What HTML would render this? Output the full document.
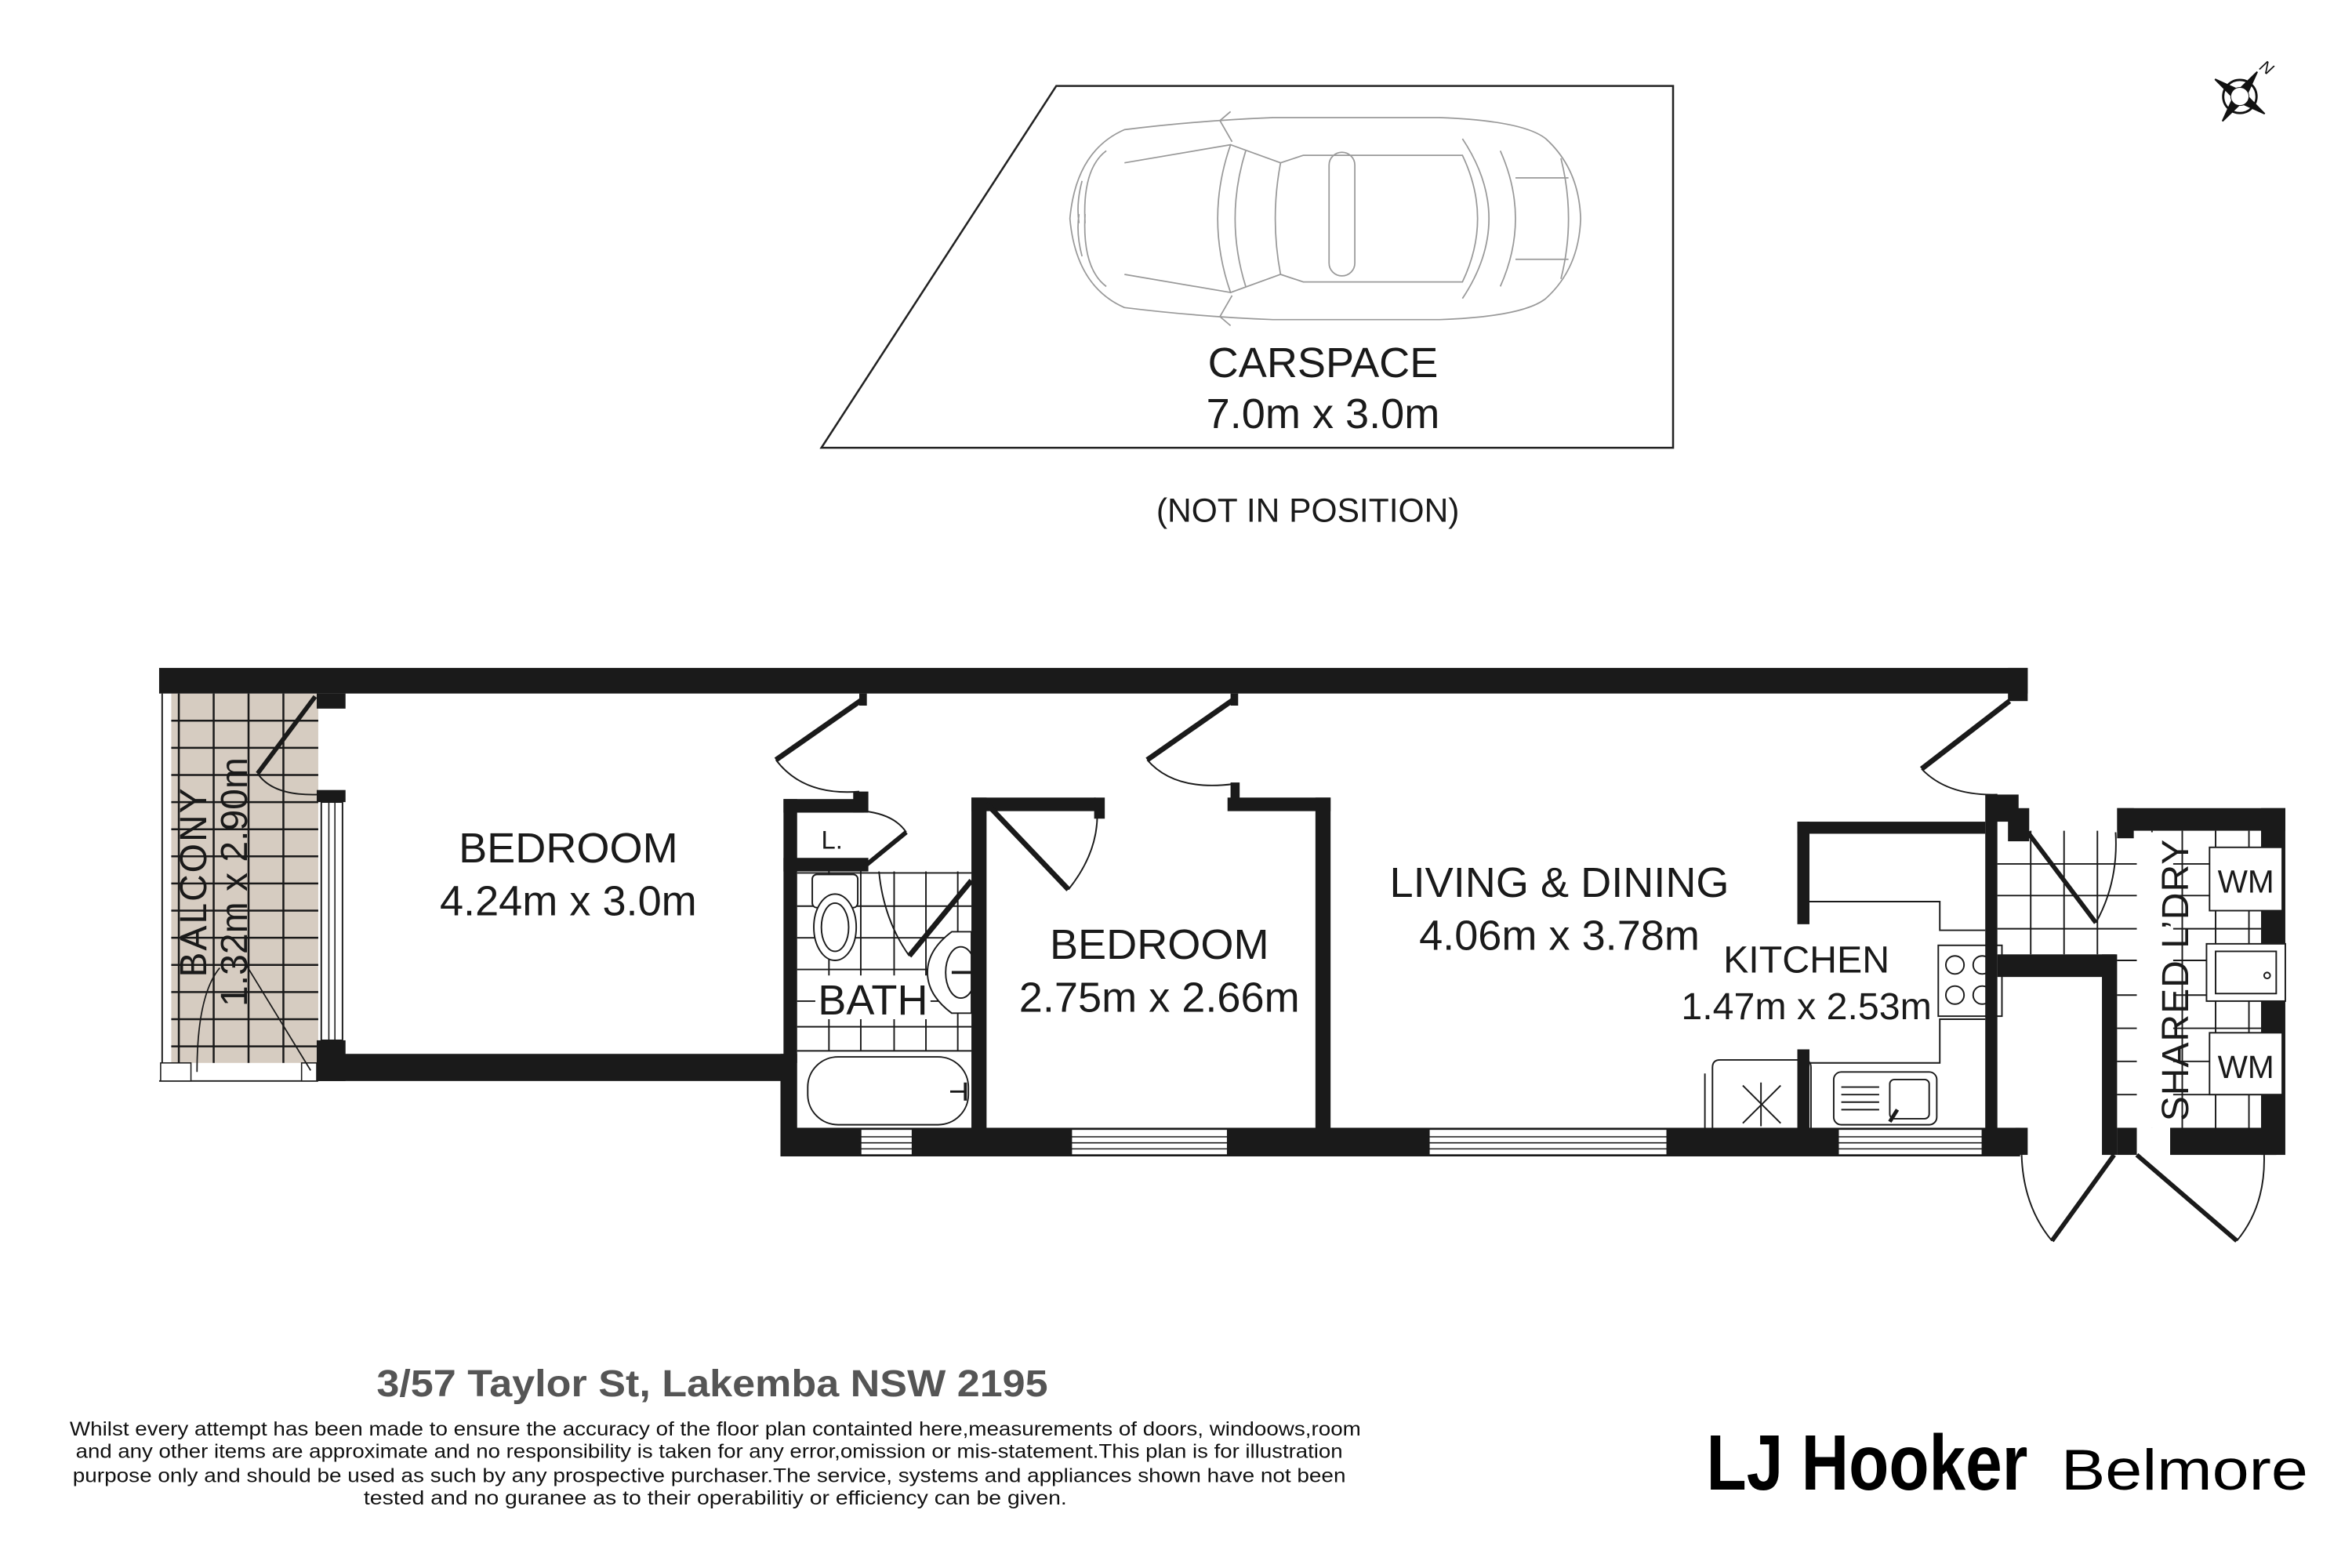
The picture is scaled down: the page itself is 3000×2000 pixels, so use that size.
<!DOCTYPE html>
<html><head><meta charset="utf-8"><style>
html,body{margin:0;padding:0;background:#fff;}
svg{display:block;}
text{font-family:"Liberation Sans",sans-serif;}
</style></head><body>
<svg width="3000" height="2000" viewBox="0 0 1552 1040" preserveAspectRatio="none" xmlns="http://www.w3.org/2000/svg">
<rect width="1552" height="1040" fill="#fff"/>

<!-- CARSPACE -->
<polygon points="697,57 1104,57 1104,297 542,297" fill="none" stroke="#222" stroke-width="1.3"/>
<g fill="none" stroke="#999" stroke-width="0.9">
  <path d="M742,86 Q790,80 840,78 L950,78 Q1005,80 1020,92 Q1042,112 1043,145 Q1042,178 1020,198 Q1005,210 950,212 L840,212 Q790,210 742,204 Q710,190 706,145 Q710,100 742,86 Z"/>
  <path d="M716,148 Q714,112 730,100 M716,142 Q714,178 730,190"/>
  <path d="M714,120 Q710,135 712,148 M714,170 Q710,155 712,142"/>
  <rect x="877" y="101" width="17" height="82" rx="8.5"/>
  <path d="M812,96 Q795,145 812,194 L845,182 Q838,145 845,108 Z"/>
  <path d="M822,100 Q808,145 822,190"/>
  <path d="M845,108 L860,103 L965,103 Q985,145 965,187 L860,187 L845,182"/>
  <path d="M965,92 Q1000,145 965,198"/>
  <path d="M990,100 Q1010,145 990,190 M1000,118 L1035,118 M1000,172 L1035,172"/>
  <path d="M813,94 L805,80 L812,74 M813,196 L805,210 L812,216"/>
  <path d="M742,108 L812,96 M742,182 L812,194"/>
  <path d="M1030,105 Q1040,145 1030,185"/>
</g>
<text x="873" y="250" font-size="28" text-anchor="middle" fill="#1a1a1a">CARSPACE</text>
<text x="873" y="284" font-size="28" text-anchor="middle" fill="#1a1a1a">7.0m x 3.0m</text>
<text x="863" y="346" font-size="22" text-anchor="middle" fill="#1a1a1a">(NOT IN POSITION)</text>

<!-- compass -->
<g transform="translate(1478,64)" stroke="#111" fill="#111">
  <circle r="11" fill="none" stroke-width="1.5"/>
  <polygon points="0,-20 3,-4 0,0 -3,-4" transform="rotate(35)"/>
  <polygon points="0,-20 3,-4 0,0 -3,-4" transform="rotate(125)"/>
  <polygon points="0,-20 3,-4 0,0 -3,-4" transform="rotate(215)"/>
  <polygon points="0,-20 3,-4 0,0 -3,-4" transform="rotate(305)"/>
  <circle r="6" fill="#fff" stroke-width="0.5"/>
  <text x="14" y="-16" font-size="11" font-style="italic" stroke="none" transform="rotate(35 17 -20)">N</text>
</g>

<!-- BALCONY -->
<rect x="113" y="460" width="97" height="245" fill="#d6ccc1"/>
<g stroke="#1a1a1a" stroke-width="1.3">
  <line x1="118" y1="460" x2="118" y2="705"/>
  <line x1="141" y1="460" x2="141" y2="705"/>
  <line x1="164" y1="460" x2="164" y2="705"/>
  <line x1="187" y1="460" x2="187" y2="705"/>
  <line x1="113" y1="478" x2="210" y2="478"/>
  <line x1="113" y1="496" x2="210" y2="496"/>
  <line x1="113" y1="514" x2="210" y2="514"/>
  <line x1="113" y1="532" x2="210" y2="532"/>
  <line x1="113" y1="550" x2="210" y2="550"/>
  <line x1="113" y1="568" x2="210" y2="568"/>
  <line x1="113" y1="586" x2="210" y2="586"/>
  <line x1="113" y1="604" x2="210" y2="604"/>
  <line x1="113" y1="622" x2="210" y2="622"/>
  <line x1="113" y1="640" x2="210" y2="640"/>
  <line x1="113" y1="658" x2="210" y2="658"/>
  <line x1="113" y1="676" x2="210" y2="676"/>
  <line x1="113" y1="694" x2="210" y2="694"/>
</g>
<line x1="107" y1="460" x2="107" y2="717" stroke="#1a1a1a" stroke-width="1"/>
<line x1="105" y1="717" x2="210" y2="717" stroke="#1a1a1a" stroke-width="1"/>
<rect x="106" y="705" width="20" height="12" fill="#fff" stroke="#1a1a1a" stroke-width="0.8"/>
<rect x="199" y="705" width="10" height="12" fill="#fff" stroke="#1a1a1a" stroke-width="0.8"/>
<path d="M208,462 L170,513" stroke="#1a1a1a" stroke-width="3" fill="none"/>
<path d="M170,513 Q180,528 210,527" stroke="#1a1a1a" stroke-width="1" fill="none"/>
<path d="M205,710 L160,636 M130,711 Q130,660 145,642" stroke="#1a1a1a" stroke-width="0.9" fill="none"/>
<text transform="translate(136,585) rotate(-90)" font-size="25" text-anchor="middle" fill="#1a1a1a" letter-spacing="1">BALCONY</text>
<text transform="translate(163,585) rotate(-90)" font-size="25" text-anchor="middle" fill="#1a1a1a">1.32m x 2.90m</text>

<!-- WALLS -->
<g fill="#1a1a1a">
  <rect x="105" y="443" width="1233" height="17"/>
  <rect x="1325" y="443" width="13" height="22"/>
  <rect x="209" y="460" width="19" height="10"/>
  <rect x="209" y="524" width="19" height="8"/>
  <rect x="209" y="690" width="19" height="27"/>
  <rect x="209" y="699" width="310" height="18"/>
  <rect x="515" y="699" width="11" height="68"/>
  <rect x="517" y="530" width="9" height="175"/>
  <rect x="517" y="530" width="53" height="9"/>
  <rect x="563" y="525" width="10" height="14"/>
  <rect x="517" y="569" width="56" height="9"/>
  <rect x="515" y="748" width="818" height="19"/>
  <rect x="641" y="529" width="10" height="225"/>
  <rect x="641" y="529" width="82" height="9"/>
  <rect x="722" y="529" width="7" height="14"/>
  <rect x="810" y="529" width="68" height="9"/>
  <rect x="812" y="519" width="6" height="12"/>
  <rect x="868" y="529" width="10" height="225"/>
  <rect x="567" y="460" width="5" height="8"/>
  <rect x="812" y="460" width="5" height="8"/>
  <rect x="1316" y="527" width="16" height="18"/>
  <rect x="1310" y="527" width="8" height="225"/>
  <rect x="1325" y="536" width="14" height="22"/>
  <rect x="1186" y="545" width="8" height="68"/>
  <rect x="1186" y="545" width="124" height="8"/>
  <rect x="1186" y="696" width="8" height="54"/>
  <rect x="1318" y="633" width="78" height="15"/>
  <rect x="1387" y="633" width="10" height="133"/>
  <rect x="1397" y="536" width="111" height="15"/>
  <rect x="1397" y="536" width="11" height="20"/>
  <rect x="1492" y="536" width="16" height="230"/>
  <rect x="1397" y="748" width="13" height="18"/>
  <rect x="1432" y="748" width="70" height="18"/>
  <rect x="1330" y="748" width="8" height="18"/>
</g>

<rect x="212" y="532" width="14" height="158" fill="#fff" stroke="#1a1a1a" stroke-width="1"/>
<line x1="217" y1="532" x2="217" y2="690" stroke="#1a1a1a" stroke-width="0.8"/>
<line x1="221" y1="532" x2="221" y2="690" stroke="#1a1a1a" stroke-width="0.8"/>

<g fill="#fff" stroke="#1a1a1a" stroke-width="0.8">
  <rect x="568" y="749" width="34" height="17"/>
  <rect x="707" y="749" width="103" height="17"/>
  <rect x="943" y="749" width="157" height="17"/>
  <rect x="1213" y="749" width="95" height="17"/>
</g>
<g stroke="#1a1a1a" stroke-width="0.8">
  <line x1="568" y1="754" x2="602" y2="754"/><line x1="568" y1="758" x2="602" y2="758"/><line x1="568" y1="762" x2="602" y2="762"/>
  <line x1="707" y1="754" x2="810" y2="754"/><line x1="707" y1="758" x2="810" y2="758"/><line x1="707" y1="762" x2="810" y2="762"/>
  <line x1="943" y1="754" x2="1100" y2="754"/><line x1="943" y1="758" x2="1100" y2="758"/><line x1="943" y1="762" x2="1100" y2="762"/>
  <line x1="1213" y1="754" x2="1308" y2="754"/><line x1="1213" y1="758" x2="1308" y2="758"/><line x1="1213" y1="762" x2="1308" y2="762"/>
</g>

<g stroke="#1a1a1a" fill="none">
  <path d="M569,464 L512,504" stroke-width="3.5"/>
  <path d="M512,504 Q530,528 567,525" stroke-width="1"/>
  <path d="M814,464 L757,504" stroke-width="3.5"/>
  <path d="M757,504 Q775,525 814,520" stroke-width="1"/>
  <path d="M1326,465 L1268,510" stroke-width="3.5"/>
  <path d="M1268,510 Q1285,528 1318,527" stroke-width="1"/>
  <path d="M570,575 L598,552" stroke-width="3"/>
  <path d="M598,552 Q590,540 570,538" stroke-width="1"/>
  <path d="M641,584 L600,634" stroke-width="3.5"/>
  <path d="M600,634 Q583,610 580,578" stroke-width="1"/>
  <path d="M651,533 L705,590" stroke-width="3.5"/>
  <path d="M705,590 Q725,565 724,538" stroke-width="1"/>
  <path d="M1338,552 L1383,612" stroke-width="3"/>
  <path d="M1383,612 Q1398,585 1396,552" stroke-width="1"/>
  <path d="M1395,766 L1354,823" stroke-width="3"/>
  <path d="M1354,823 Q1335,800 1334,766" stroke-width="1"/>
  <path d="M1410,766 L1476,823" stroke-width="3"/>
  <path d="M1476,823 Q1495,800 1494,766" stroke-width="1"/>
</g>

<g stroke="#1a1a1a" stroke-width="1">
  <line x1="526" y1="579" x2="641" y2="579"/>
  <line x1="526" y1="601" x2="641" y2="601"/>
  <line x1="526" y1="622" x2="641" y2="622"/>
  <line x1="526" y1="643" x2="641" y2="643"/>
  <line x1="526" y1="664" x2="641" y2="664"/>
  <line x1="526" y1="681" x2="641" y2="681"/>
  <line x1="526" y1="697" x2="641" y2="697"/>
  <line x1="547" y1="578" x2="547" y2="697"/>
  <line x1="568" y1="578" x2="568" y2="697"/>
  <line x1="590" y1="578" x2="590" y2="697"/>
  <line x1="611" y1="578" x2="611" y2="697"/>
  <line x1="632" y1="578" x2="632" y2="697"/>
</g>
<rect x="538" y="647" width="76" height="29" fill="#fff"/>
<rect x="536" y="580" width="30" height="22" rx="3" fill="#fff" stroke="#1a1a1a" stroke-width="1"/>
<ellipse cx="551" cy="615" rx="14" ry="22" fill="#fff" stroke="#1a1a1a" stroke-width="1"/>
<ellipse cx="551" cy="615" rx="9" ry="16" fill="none" stroke="#1a1a1a" stroke-width="1"/>
<path d="M641,618 L628,618 Q612,630 612,645 Q612,660 628,672 L641,672 Z" fill="#fff" stroke="#1a1a1a" stroke-width="1"/>
<ellipse cx="634" cy="645" rx="10" ry="17" fill="none" stroke="#1a1a1a" stroke-width="1"/>
<line x1="628" y1="645" x2="641" y2="645" stroke="#1a1a1a" stroke-width="2"/>
<rect x="533" y="701" width="106" height="45" rx="20" fill="#fff" stroke="#1a1a1a" stroke-width="1"/>
<line x1="627" y1="724" x2="637" y2="724" stroke="#1a1a1a" stroke-width="1.5"/>
<line x1="637" y1="718" x2="637" y2="730" stroke="#1a1a1a" stroke-width="2"/>
<text x="549" y="563" font-size="17" text-anchor="middle" fill="#1a1a1a">L.</text>
<text x="576" y="673" font-size="28" text-anchor="middle" fill="#1a1a1a">BATH</text>

<g fill="none" stroke="#1a1a1a" stroke-width="1">
  <path d="M1194,598 L1280,598 L1280,617 L1310,617"/>
  <path d="M1310,676 L1280,676 L1280,705 L1194,705"/>
  <rect x="1279" y="627" width="42" height="47"/>
  <circle cx="1290" cy="640" r="6"/><circle cx="1308" cy="640" r="6"/>
  <circle cx="1290" cy="660" r="6"/><circle cx="1308" cy="660" r="6"/>
  <rect x="1210" y="711" width="68" height="35" rx="5"/>
  <rect x="1247" y="716" width="26" height="26" rx="3"/>
  <line x1="1215" y1="721" x2="1240" y2="721"/><line x1="1215" y1="726" x2="1240" y2="726"/>
  <line x1="1215" y1="731" x2="1240" y2="731"/><line x1="1215" y1="736" x2="1240" y2="736"/>
  <path d="M1130,748 L1130,708 Q1130,703 1135,703 L1190,703 Q1195,703 1195,708 L1195,748"/>
  <line x1="1125" y1="712" x2="1125" y2="748"/>
  <line x1="1150" y1="720" x2="1175" y2="745"/><line x1="1175" y1="720" x2="1150" y2="745"/>
  <line x1="1162" y1="718" x2="1162" y2="747"/>
</g>
<line x1="1247" y1="744" x2="1252" y2="736" stroke="#1a1a1a" stroke-width="2.5"/>

<g stroke="#1a1a1a" stroke-width="1">
  <line x1="1318" y1="573" x2="1492" y2="573"/>
  <line x1="1318" y1="594" x2="1492" y2="594"/>
  <line x1="1318" y1="616" x2="1492" y2="616"/>
  <line x1="1397" y1="637" x2="1492" y2="637"/>
  <line x1="1397" y1="660" x2="1492" y2="660"/>
  <line x1="1397" y1="682" x2="1492" y2="682"/>
  <line x1="1397" y1="704" x2="1492" y2="704"/>
  <line x1="1397" y1="726" x2="1492" y2="726"/>
  <line x1="1340" y1="551" x2="1340" y2="633"/>
  <line x1="1362" y1="551" x2="1362" y2="633"/>
  <line x1="1384" y1="551" x2="1384" y2="633"/>
  <line x1="1420" y1="551" x2="1420" y2="748"/>
  <line x1="1440" y1="551" x2="1440" y2="748"/>
  <line x1="1462" y1="551" x2="1462" y2="748"/>
  <line x1="1484" y1="551" x2="1484" y2="748"/>
</g>
<rect x="1410" y="552" width="24" height="196" fill="#fff"/>
<g fill="#fff" stroke="#1a1a1a" stroke-width="1">
  <rect x="1458" y="562" width="48" height="42"/>
  <rect x="1458" y="685" width="48" height="41"/>
  <rect x="1456" y="626" width="52" height="38"/>
  <rect x="1462" y="631" width="40" height="28"/>
  <circle cx="1496" cy="647" r="2"/>
</g>
<text x="1482" y="592" font-size="21" text-anchor="middle" fill="#1a1a1a">WM</text>
<text x="1482" y="715" font-size="21" text-anchor="middle" fill="#1a1a1a">WM</text>
<text transform="translate(1444,650) rotate(-90)" font-size="25" text-anchor="middle" fill="#1a1a1a" letter-spacing="0.5">SHARED L’DRY</text>

<g fill="#1a1a1a" text-anchor="middle" font-size="28">
  <text x="375" y="572">BEDROOM</text>
  <text x="375" y="607">4.24m x 3.0m</text>
  <text x="765" y="636">BEDROOM</text>
  <text x="765" y="671">2.75m x 2.66m</text>
  <text x="1029" y="595">LIVING &amp; DINING</text>
  <text x="1029" y="630">4.06m x 3.78m</text>
  <text x="1192" y="645" font-size="25">KITCHEN</text>
  <text x="1192" y="676" font-size="25">1.47m x 2.53m</text>
</g>

<text x="470" y="926" font-size="25" font-weight="bold" text-anchor="middle" fill="#555" textLength="443" lengthAdjust="spacingAndGlyphs">3/57 Taylor St, Lakemba NSW 2195</text>
<g font-size="13" fill="#111" text-anchor="middle">
  <text x="472" y="952" textLength="852" lengthAdjust="spacingAndGlyphs">Whilst every attempt has been made to ensure the accuracy of the floor plan containted here,measurements of doors, windoows,room</text>
  <text x="468" y="967" textLength="836" lengthAdjust="spacingAndGlyphs">and any other items are approximate and no responsibility is taken for any error,omission or mis-statement.This plan is for illustration</text>
  <text x="468" y="983" textLength="840" lengthAdjust="spacingAndGlyphs">purpose only and should be used as such by any prospective purchaser.The service, systems and appliances shown have not been</text>
  <text x="472" y="998" textLength="464" lengthAdjust="spacingAndGlyphs">tested and no guranee as to their operabilitiy or efficiency can be given.</text>
</g>
<text x="1126" y="988" font-size="52" font-weight="bold" fill="#000" textLength="212" lengthAdjust="spacingAndGlyphs">LJ Hooker</text>
<text x="1360" y="988" font-size="38" fill="#000" textLength="163" lengthAdjust="spacingAndGlyphs">Belmore</text>
</svg>
</body></html>
